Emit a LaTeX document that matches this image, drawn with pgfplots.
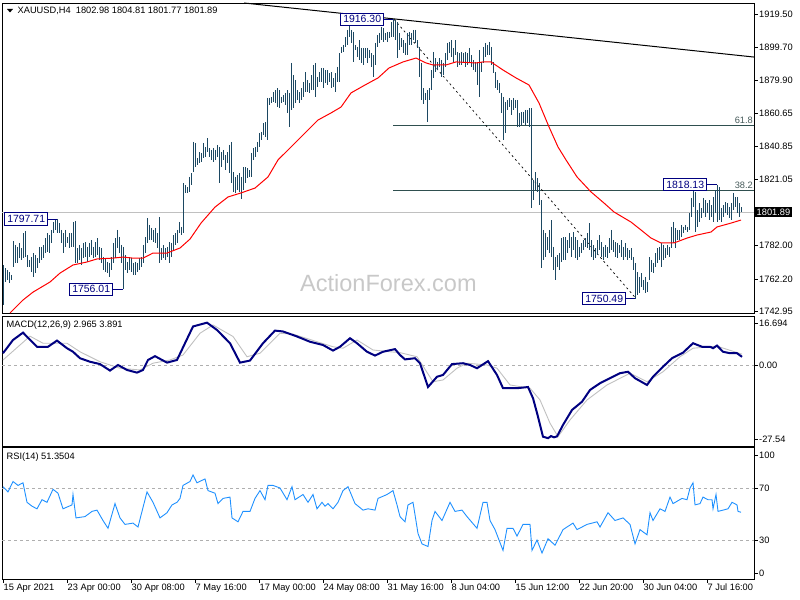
\documentclass[border=0pt]{standalone}
\usepackage{pgfplots}
\pgfplotsset{compat=1.18}
\usepackage{pgfplotstable}
\usepackage{fontspec}
\setmainfont{Liberation Sans}
\definecolor{barcol}{RGB}{28,72,98}
\definecolor{navyc}{RGB}{0,0,128}
\definecolor{fibcol}{RGB}{47,79,79}
\definecolor{fibtxt}{RGB}{70,90,90}
\definecolor{wm}{RGB}{200,200,200}
\definecolor{sig}{RGB}{192,192,192}
\definecolor{rsic}{RGB}{30,144,255}
\definecolor{dashg}{RGB}{175,175,175}

\pgfplotstableread{
i h l
0 1770.4 1746.6
1 1768.6 1760.3
2 1767.4 1761.5
3 1766.2 1759.7
4 1764.5 1761.5
5 1784.6 1769.2
6 1782.3 1771.6
7 1781.1 1771.6
8 1783.5 1774.5
9 1780.5 1773.4
10 1789.4 1774.5
11 1790.6 1775.1
12 1776.3 1769.2
13 1773.4 1769.2
14 1775.1 1766.2
15 1777.5 1763.3
16 1776.3 1765.6
17 1774.5 1768.6
18 1781.1 1771.6
19 1781.1 1773.4
20 1782.3 1774.5
21 1786.4 1777.5
22 1789.4 1778.1
23 1788.2 1777.5
24 1791.2 1783.5
25 1796.0 1789.4
26 1797.1 1791.2
27 1797.7 1789.4
28 1795.3 1789.4
29 1791.2 1783.5
30 1789.4 1777.5
31 1791.2 1781.1
32 1787.0 1783.5
33 1789.4 1780.5
34 1789.4 1781.1
35 1796.0 1781.1
36 1796.6 1771.6
37 1780.5 1771.6
38 1782.3 1773.4
39 1780.5 1770.4
40 1783.5 1774.5
41 1784.0 1775.1
42 1781.1 1772.2
43 1783.5 1775.1
44 1785.2 1776.3
45 1781.1 1774.5
46 1784.0 1775.1
47 1786.4 1776.3
48 1781.1 1773.4
49 1780.5 1771.6
50 1775.1 1767.4
51 1774.5 1766.2
52 1772.2 1765.6
53 1771.6 1763.3
54 1775.1 1767.4
55 1783.5 1771.6
56 1786.4 1774.5
57 1791.2 1780.5
58 1787.0 1777.5
59 1782.3 1771.6
60 1781.1 1756.0
61 1776.3 1767.4
62 1772.2 1765.6
63 1775.1 1767.4
64 1774.5 1766.2
65 1771.6 1764.5
66 1772.2 1764.5
67 1771.6 1766.2
68 1774.5 1767.4
69 1775.1 1769.2
70 1782.3 1771.6
71 1787.0 1777.5
72 1798.3 1783.5
73 1794.2 1785.2
74 1792.4 1785.2
75 1791.2 1784.0
76 1792.4 1783.5
77 1789.4 1780.5
78 1798.9 1771.6
79 1780.5 1773.4
80 1782.3 1774.5
81 1780.5 1773.4
82 1781.1 1775.1
83 1784.0 1771.6
84 1783.5 1775.1
85 1788.2 1779.3
86 1789.4 1782.3
87 1791.2 1783.5
88 1796.0 1789.4
89 1793.0 1788.0
90 1819.1 1789.4
91 1817.9 1813.2
92 1816.7 1813.2
93 1822.7 1813.8
94 1825.0 1817.9
95 1843.5 1825.6
96 1842.9 1828.6
97 1834.0 1829.8
98 1837.5 1831.0
99 1836.9 1831.6
100 1842.9 1834.0
101 1840.5 1834.5
102 1845.8 1837.5
103 1839.9 1834.5
104 1838.7 1832.8
105 1839.9 1831.6
106 1838.7 1832.8
107 1841.7 1834.5
108 1840.5 1819.1
109 1837.5 1828.6
110 1838.7 1832.8
111 1835.7 1826.8
112 1837.5 1831.0
113 1841.7 1825.0
114 1843.5 1819.1
115 1825.6 1813.8
116 1822.7 1813.2
117 1823.9 1814.9
118 1825.0 1813.8
119 1822.7 1809.6
120 1828.6 1814.9
121 1828.6 1819.1
122 1828.0 1822.1
123 1826.8 1822.7
124 1836.9 1822.7
125 1839.9 1832.8
126 1840.5 1834.5
127 1843.5 1837.5
128 1848.8 1840.5
129 1849.4 1844.6
130 1854.7 1847.6
131 1855.3 1846.4
132 1869.6 1844.6
133 1869.6 1865.4
134 1870.2 1866.6
135 1873.1 1867.2
136 1874.3 1866.6
137 1875.5 1864.2
138 1874.3 1863.6
139 1870.2 1866.6
140 1871.4 1867.2
141 1872.6 1865.4
142 1874.3 1860.7
143 1872.6 1852.4
144 1890.4 1862.5
145 1883.2 1863.6
146 1880.3 1866.6
147 1874.3 1868.4
148 1873.1 1866.6
149 1875.5 1868.4
150 1879.1 1870.2
151 1885.0 1873.1
152 1880.3 1873.1
153 1878.5 1872.6
154 1883.2 1874.3
155 1889.2 1874.3
156 1890.4 1870.2
157 1882.1 1876.1
158 1885.0 1879.1
159 1887.4 1879.1
160 1887.4 1875.5
161 1886.2 1878.5
162 1886.2 1877.3
163 1884.4 1879.1
164 1885.0 1875.5
165 1881.5 1876.1
166 1884.4 1873.1
167 1888.0 1879.1
168 1896.3 1879.1
169 1899.9 1896.3
170 1901.1 1896.9
171 1905.8 1899.9
172 1910.0 1901.1
173 1912.4 1905.8
174 1910.0 1902.3
175 1908.8 1891.0
176 1901.1 1898.1
177 1899.9 1893.9
178 1904.0 1892.2
179 1899.3 1890.4
180 1899.3 1889.2
181 1899.3 1893.3
182 1899.3 1890.4
183 1898.1 1893.3
184 1896.3 1888.0
185 1895.1 1882.1
186 1902.3 1889.2
187 1907.0 1899.9
188 1908.2 1902.3
189 1911.8 1904.0
190 1911.2 1902.9
191 1908.2 1904.0
192 1908.8 1902.9
193 1908.8 1905.2
194 1914.7 1905.8
195 1916.3 1905.8
196 1915.9 1904.0
197 1914.7 1893.3
198 1908.2 1898.1
199 1905.2 1899.9
200 1904.0 1896.3
201 1902.3 1895.1
202 1908.2 1895.1
203 1908.8 1901.1
204 1908.2 1901.1
205 1910.0 1904.0
206 1910.0 1902.3
207 1904.0 1899.3
208 1899.9 1882.1
209 1890.4 1868.4
210 1875.5 1866.0
211 1872.6 1868.4
212 1874.3 1855.3
213 1875.5 1868.4
214 1886.2 1874.3
215 1896.9 1881.5
216 1893.3 1885.0
217 1891.0 1886.2
218 1893.3 1888.0
219 1892.2 1882.1
220 1890.4 1883.2
221 1896.3 1888.0
222 1902.3 1892.2
223 1902.9 1896.3
224 1904.0 1893.9
225 1899.3 1890.4
226 1904.0 1895.1
227 1896.9 1888.0
228 1896.3 1889.2
229 1896.9 1889.2
230 1896.3 1891.0
231 1896.9 1888.0
232 1896.3 1889.2
233 1899.3 1890.4
234 1895.1 1888.0
235 1892.2 1886.2
236 1891.0 1885.0
237 1891.0 1877.3
238 1898.1 1870.2
239 1891.0 1885.0
240 1899.9 1890.4
241 1902.3 1893.9
242 1901.1 1895.1
243 1902.9 1895.1
244 1899.9 1889.2
245 1891.0 1884.4
246 1885.0 1875.5
247 1880.3 1874.3
248 1878.5 1872.6
249 1872.6 1860.7
250 1870.2 1844.6
251 1867.2 1848.8
252 1868.4 1862.5
253 1869.6 1864.2
254 1868.4 1859.5
255 1869.6 1862.5
256 1868.4 1863.6
257 1868.4 1852.4
258 1860.7 1852.4
259 1861.3 1853.6
260 1861.3 1854.7
261 1862.5 1853.6
262 1862.5 1854.7
263 1863.6 1852.4
264 1863.6 1804.3
265 1820.9 1809.0
266 1825.6 1814.9
267 1822.1 1813.8
268 1819.1 1806.0
269 1809.0 1768.6
270 1791.2 1773.4
271 1789.4 1775.1
272 1787.0 1779.3
273 1791.2 1777.5
274 1797.1 1775.1
275 1781.1 1767.4
276 1775.1 1761.5
277 1776.3 1769.2
278 1777.5 1767.4
279 1786.4 1772.2
280 1787.0 1773.4
281 1787.0 1773.4
282 1785.2 1777.5
283 1789.4 1780.5
284 1787.0 1775.1
285 1789.9 1779.3
286 1787.0 1774.5
287 1785.2 1773.4
288 1781.1 1775.1
289 1783.5 1777.5
290 1785.2 1779.3
291 1786.4 1781.1
292 1789.4 1780.5
293 1795.3 1779.3
294 1785.2 1775.1
295 1782.3 1773.4
296 1780.5 1774.5
297 1785.2 1776.3
298 1788.2 1779.3
299 1784.0 1775.1
300 1781.1 1773.4
301 1782.3 1775.1
302 1781.1 1774.5
303 1786.4 1777.5
304 1791.2 1779.3
305 1785.2 1778.1
306 1784.0 1775.1
307 1783.5 1774.5
308 1782.3 1777.5
309 1785.2 1775.1
310 1781.1 1773.4
311 1783.5 1775.1
312 1780.5 1773.4
313 1779.3 1774.5
314 1780.5 1773.4
315 1775.1 1767.4
316 1771.6 1750.5
317 1766.2 1752.6
318 1763.3 1753.8
319 1765.6 1757.3
320 1761.5 1755.5
321 1763.3 1753.8
322 1760.3 1754.4
323 1775.1 1761.5
324 1773.4 1766.2
325 1771.6 1765.6
326 1777.5 1769.2
327 1780.5 1771.6
328 1781.1 1773.4
329 1783.5 1769.2
330 1782.3 1773.4
331 1780.5 1774.5
332 1782.3 1776.3
333 1781.1 1775.1
334 1793.0 1780.5
335 1796.0 1783.5
336 1792.4 1780.5
337 1791.2 1785.2
338 1791.2 1785.2
339 1794.2 1787.0
340 1793.0 1789.4
341 1794.2 1791.2
342 1793.0 1790.0
343 1801.3 1791.2
344 1810.2 1798.9
345 1814.9 1804.8
346 1813.8 1790.0
347 1803.1 1793.0
348 1807.2 1796.0
349 1804.3 1798.3
350 1810.2 1801.3
351 1809.0 1798.9
352 1807.2 1801.3
353 1809.0 1797.1
354 1806.0 1798.9
355 1810.8 1796.0
356 1814.9 1801.3
357 1818.1 1796.0
358 1816.7 1797.1
359 1804.3 1796.0
360 1806.0 1798.9
361 1807.8 1801.3
362 1807.2 1800.1
363 1804.8 1798.3
364 1807.2 1797.1
365 1813.2 1803.1
366 1810.8 1804.8
367 1810.8 1801.3
368 1807.2 1798.9
369 1804.81 1801.77
}\bars

\pgfplotsset{
  mt/.style={
    scale only axis, width=752bp, xmin=-0.5, xmax=375.5,
    axis line style={black, line width=0.9bp},
    tick align=outside, major tick length=3.5bp,
    ytick pos=right, yticklabel pos=right,
    tick style={black, line width=0.6bp},
    ticklabel style={font=\fontsize{9.3}{10}\selectfont, inner sep=0pt},
    yticklabel style={anchor=west, xshift=1.5bp},
    xtick=\empty, clip=true
  }
}

\begin{document}
\begin{tikzpicture}[x=1bp,y=1bp]
\useasboundingbox (0,0) rectangle (800,-600);

% ---------------- price panel ----------------
\begin{axis}[mt, at={(2bp,-3bp)}, anchor=north west, height=310.5bp,
  ymin=1741.6, ymax=1926.0,
  ytick={1742.95,1762.20,1782.00,1821.05,1840.85,1860.65,1879.90,1899.70,1919.50},
  yticklabels={1742.95,1762.20,1782.00,1821.05,1840.85,1860.65,1879.90,1899.70,1919.50}]
  \node[anchor=base west, text=wm, font=\fontsize{23.6}{24}\selectfont, inner sep=0pt]
     at (axis cs:148.5,1754.4) {ActionForex.com};
  % current price line
  \addplot[sig, line width=0.8bp, forget plot] coordinates {(-0.5,1801.89) (375.5,1801.89)};
  % fibonacci levels
  \addplot[fibcol, line width=0.9bp, forget plot] coordinates {(195,1853.2) (375.5,1853.2)};
  \addplot[fibcol, line width=0.9bp, forget plot] coordinates {(195,1814.6) (375.5,1814.6)};
  % trendline
  \addplot[black, line width=1bp, forget plot] coordinates {(120.5,1926.0) (375.5,1893.9)};
  % dashed line high to low
  \addplot[black, line width=0.7bp, dash pattern=on 2bp off 3bp, forget plot] coordinates {(195.5,1916.3) (316.5,1750.49)};
  % HL bars
  \addplot[draw=none, mark=none, forget plot,
    error bars/.cd, y dir=minus, y explicit, error mark=none,
    error bar style={draw=barcol, line width=1bp, solid}]
    table[x=i, y=h, y error expr=\thisrow{h}-\thisrow{l}] {\bars};
  % moving average
  \addplot[red, line width=1bp, forget plot] coordinates {
    (3.5,1741.9) (10,1749.6) (15,1754.3) (23.5,1760.3) (28.5,1765.6) (35,1770.4)
    (42,1772.2) (47,1774.0) (55,1774.5) (60,1775.1) (65,1774.5) (70,1774.5)
    (75,1777.5) (82,1777.5) (88.5,1780.5) (93.5,1785.8) (99,1795.3) (106,1804.8)
    (112.5,1810.8) (119,1813.2) (126,1816.1) (132.5,1822.7) (137.5,1832.8)
    (144,1840.5) (151,1848.8) (157.5,1856.5) (164,1860.7) (169,1864.2)
    (174,1872.6) (181,1877.3) (187.5,1881.5) (193,1887.4) (200,1891.0)
    (206.5,1893.3) (211.5,1890.4) (215,1889.2) (221.5,1889.2) (226.5,1891.0)
    (236.5,1890.4) (240,1891.0) (244,1891.0) (250,1886.2) (256.5,1881.5)
    (263,1877.3) (268,1866.6) (273,1852.4) (277.5,1840.5) (281.5,1832.8)
    (287,1822.7) (294,1813.8) (300.5,1807.2) (305.5,1801.9) (314,1795.9)
    (319,1791.2) (324,1786.4) (329,1783.5) (335.5,1783.5) (342,1786.4)
    (347,1788.2) (354,1790.0) (357,1793.0) (364,1795.3) (369,1797.1)};
  % level labels
  \node[anchor=south east, text=fibtxt, font=\fontsize{9.3}{10}\selectfont, inner sep=0pt]
     at (axis cs:375,1854.4) {61.8};
  \node[anchor=south east, text=fibtxt, font=\fontsize{9.3}{10}\selectfont, inner sep=0pt]
     at (axis cs:375,1815.8) {38.2};
  % price tags
  \tikzset{tag/.style={draw=navyc, fill=white, text=navyc, font=\fontsize{10.5}{11}\selectfont,
     inner xsep=2.5bp, inner ysep=0pt, minimum height=12.5bp, line width=0.8bp, anchor=east}}
  \draw[navyc, line width=0.8bp] (axis cs:190.5,1916.3) -- (axis cs:195,1916.3);
  \node[tag] at (axis cs:190.5,1916.3) {1916.30};
  \draw[navyc, line width=0.8bp] (axis cs:22.5,1797.71) -- (axis cs:27,1797.71);
  \node[tag] at (axis cs:22.5,1797.71) {1797.71};
  \draw[navyc, line width=0.8bp] (axis cs:55,1756.01) -- (axis cs:60,1756.01);
  \node[tag] at (axis cs:55,1756.01) {1756.01};
  \draw[navyc, line width=0.8bp] (axis cs:311.5,1750.49) -- (axis cs:316,1750.49);
  \node[tag] at (axis cs:311.5,1750.49) {1750.49};
  \draw[navyc, line width=0.8bp] (axis cs:352,1818.13) -- (axis cs:357,1818.13);
  \node[tag] at (axis cs:352,1818.13) {1818.13};
\end{axis}

% ---------------- MACD panel ----------------
\begin{axis}[mt, at={(2bp,-316.5bp)}, anchor=north west, height=130bp,
  ymin=-27.54, ymax=16.694,
  ytick={-25,0,14.5}, yticklabels={-27.54,0.00,16.694}]
  \addplot[dashg, line width=0.7bp, dash pattern=on 3bp off 3bp, forget plot] coordinates {(-0.5,0) (375.5,0)};
  \addplot[sig, line width=0.9bp, forget plot] coordinates {
    (0,1.9) (13.5,10.0) (20,7.6) (32,7.6) (38.5,4.7) (48.5,1.3) (58.5,-0.9)
    (68.5,-1.5) (75,0.8) (83.5,1.9) (90,3.6) (98.5,11.0) (105,13.8) (115,9.9)
    (122,3.0) (128.5,4.2) (138.5,11.0) (145,10.7) (165,6.4) (170,5.9) (177,8.7)
    (185,5.3) (193.5,4.7) (198.5,4.4) (207,3.0) (215,-5.5) (220,-4.9) (227,-0.9)
    (232,0.8) (242,0.2) (247,-0.9) (253.5,-6.6) (263.5,-7.7) (268.5,-11.7)
    (273.5,-19.6) (277.5,-24.2) (283.5,-18.5) (292,-11.7) (302,-6.6)
    (313.5,-2.6) (322,-5.5) (330,-2.1) (338.5,3.0) (345,5.9) (357,6.6) (369.5,3.891)};
  \addplot[navyc, line width=2bp, forget plot] coordinates {
    (0,4.2) (5,8.7) (10,11.2) (17,6.4) (22.5,6.4) (27,8.5) (32,5.9) (35,4.7)
    (38.5,2.5) (43.5,1.3) (48.5,0.5) (53.5,-1.7) (57.5,0.2) (62,-1.5) (67,-2.4)
    (70,-1.5) (72.5,1.9) (76,3.2) (82,1.0) (87,1.9) (91,7.6) (95,13.3) (102,14.6)
    (107,12.1) (113.5,7.6) (118.5,1.0) (123.5,1.7) (130,7.6) (136,11.9) (140,11.6)
    (147,9.9) (153.5,8.1) (160,7.0) (165,5.1) (168.5,6.4) (173.5,9.3) (177,7.6)
    (182,4.7) (186,3.4) (190,4.7) (196,5.6) (198.5,3.6) (201,2.1) (206,2.5)
    (208.5,0.8) (212.5,-7.3) (217,-3.8) (220,-3.2) (224.5,0.5) (230,0.8)
    (233.5,0.2) (237,-0.9) (242.5,1.5) (247,-3.2) (250,-7.7) (257,-7.7)
    (262.5,-7.3) (265,-11.1) (267.5,-17.4) (270,-24.2) (271,-24.4) (272.5,-24.7)
    (274,-24.0) (275.5,-24.4) (277,-24.1) (280,-20.2) (284.5,-15.1) (289.5,-12.3)
    (293.5,-8.3) (298.5,-6.0) (303.5,-4.3) (308.5,-2.6) (312.5,-2.1) (316,-4.3)
    (322,-6.6) (325,-3.8) (330,-0.4) (334.5,2.5) (340,4.4) (345,7.6) (349.5,6.4)
    (353.5,6.4) (355,5.9) (357,6.8) (360,4.7) (363.5,4.2) (367,4.2) (369.5,2.965)};
\end{axis}

% ---------------- RSI panel ----------------
\begin{axis}[mt, at={(2bp,-447.5bp)}, anchor=north west, height=131.5bp,
  ymin=0, ymax=101.15,
  ytick={4.6,30,70,95.4}, yticklabels={0,30,70,100},
  xtick={0,32,64,96,128,160,192,224,256,288,320,352},
  xticklabels={15 Apr 2021,23 Apr 00:00,30 Apr 08:00,7 May 16:00,17 May 00:00,24 May 08:00,31 May 16:00,8 Jun 04:00,15 Jun 12:00,22 Jun 20:00,30 Jun 04:00,7 Jul 16:00},
  xtick pos=left, xticklabel style={anchor=north west, xshift=0.5bp, yshift=-1bp}]
  \addplot[dashg, line width=0.7bp, dash pattern=on 3bp off 3bp, forget plot] coordinates {(-0.5,70) (375.5,70)};
  \addplot[dashg, line width=0.7bp, dash pattern=on 3bp off 3bp, forget plot] coordinates {(-0.5,30) (375.5,30)};
  \addplot[rsic, line width=0.9bp, forget plot] coordinates {
    (0,71) (2.5,67) (5,75) (7.5,72) (10,74) (12,59) (14.5,56) (17,54) (19.5,61)
    (22,59) (25,69) (27.5,66) (30,54) (34.5,57) (35,65) (36.5,47) (41,48)
    (44.5,52) (47,53) (50,45) (52.5,39) (56,58) (58.5,47) (61,42) (65,43)
    (67.5,40) (72,67) (75,59) (78.5,47) (82,51) (84.5,57) (87,59) (88.5,62)
    (90,72) (93.5,75) (95,80) (97,74) (101,77) (102.5,68) (106,66) (107.5,58)
    (110,62) (113.5,63) (114.5,47) (117.5,44) (120,52) (123.5,52) (126,62)
    (128.5,68) (131,61) (132.5,72) (135,72) (138.5,70) (142,61) (144.5,71)
    (146,61) (150,65) (152.5,59) (155,65) (157,54) (159.5,59) (161,56)
    (162.5,58) (165,54) (167.5,59) (170,68) (172.5,71) (176,58) (180,53)
    (182.5,54) (186,53) (187.5,62) (192,65) (195,68) (197,57) (198.5,48)
    (201,44) (202.5,57) (205,59) (207.5,35) (209.5,27) (212.5,25) (214.5,45)
    (216,52) (219.5,45) (223.5,59) (226,52) (229.5,53) (232,48) (237,39)
    (240,59) (242,59) (243.5,45) (246,38) (250,22) (252,39) (255,39) (257,33)
    (260,42) (263.5,42) (264.5,22) (267,30) (269.5,20) (272.5,31) (276,26)
    (280,38) (285,43) (287,38) (292,42) (297,44) (298.5,40) (302.5,51) (306,45)
    (310,47) (313.5,42) (316,27) (318.5,38) (322,34) (323.5,51) (325,45)
    (328.5,54) (331,52) (333.5,63) (335,58) (339.5,62) (342,61) (343.5,70)
    (345,74) (346,57) (348.5,58) (350,63) (352.5,61) (354.5,61) (355,54)
    (356.5,65) (357.5,52) (360,53) (362.5,54) (364.5,59) (367,57) (367.5,52)
    (369,51.35)};
\end{axis}

% header and panel captions
\fill[black] (7,-9) -- (13,-9) -- (10,-12.5) -- cycle;
\node[anchor=west, inner sep=0pt, font=\fontsize{9.3}{10}\selectfont] at (17.5,-11)
  {XAUUSD,H4\ \ 1802.98 1804.81 1801.77 1801.89};
\node[anchor=west, inner sep=0pt, font=\fontsize{9.3}{10}\selectfont] at (6.5,-325.5)
  {MACD(12,26,9) 2.965 3.891};
\node[anchor=west, inner sep=0pt, font=\fontsize{9.3}{10}\selectfont] at (6.5,-457)
  {RSI(14) 51.3504};
% current price tag on the scale
\node[anchor=west, fill=black, text=white, inner xsep=1.5bp, inner ysep=0pt, minimum height=10bp,
  font=\fontsize{9.3}{10}\selectfont] at (755,-212) {1801.89};
\end{tikzpicture}
\end{document}
